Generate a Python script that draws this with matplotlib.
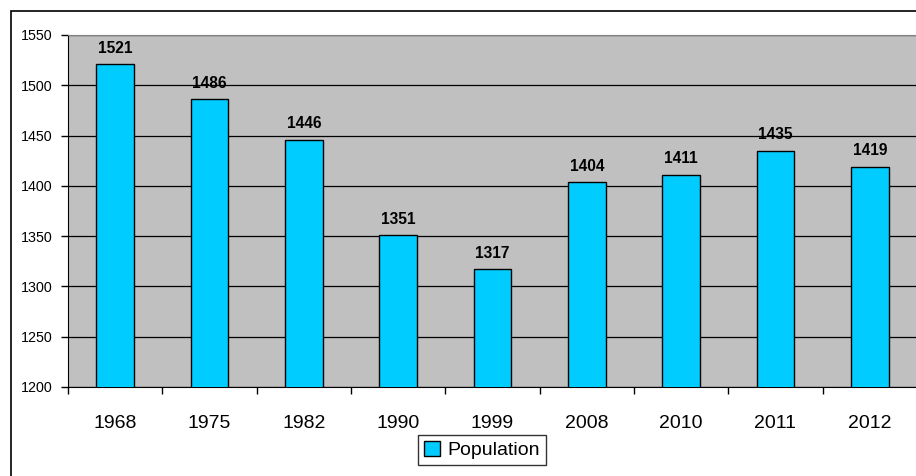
import matplotlib
matplotlib.use("Agg")
from matplotlib import pyplot as plt
from matplotlib.patches import Rectangle
import numpy as np

years = ["1968", "1975", "1982", "1990", "1999", "2008", "2010", "2011", "2012"]
population = [1521, 1486, 1446, 1351, 1317, 1404, 1411, 1435, 1419]
y_ticks = [1200, 1250, 1300, 1350, 1400, 1450, 1500, 1550]

plt.rcParams["font.family"] = ["Liberation Sans", "DejaVu Sans"]

fig = plt.figure(figsize=(9.16, 4.76), dpi=100)
ax = fig.add_axes([68 / 916, 1 - 387 / 476, 849 / 916, 352 / 476])
ax.set_facecolor("#C0C0C0")

x = np.arange(len(years))
bars = ax.bar(x, population, width=0.4, bottom=0, color="#00CCFF",
              edgecolor="black", linewidth=1, zorder=3, label="Population")

for b, v in zip(bars, population):
    ax.annotate(str(v), (b.get_x() + b.get_width() / 2, v), xytext=(0, 6),
                textcoords="offset points", ha="center", va="bottom",
                fontsize=11.2, fontweight="bold", zorder=4)

ax.set_ylim(1200, 1550)
ax.set_xlim(-0.5, len(years) - 0.5)
ax.set_yticks(y_ticks)
ax.yaxis.grid(True, color="black", linewidth=0.9, zorder=1)
ax.set_axisbelow(True)

ax.set_xticks(x)
ax.set_xticklabels(years, fontsize=14)
ax.set_xticks(np.arange(len(years) + 1) - 0.5, minor=True)
ax.tick_params(axis="x", which="major", length=0, pad=20)
ax.tick_params(axis="x", which="minor", length=5, direction="out", width=1)
ax.tick_params(axis="y", length=5, direction="out", width=1, labelsize=10.3, pad=6)

ax.spines["left"].set_color("black")
ax.spines["bottom"].set_color("black")
ax.spines["top"].set_color("#808080")
ax.spines["right"].set_visible(False)

leg = fig.legend(loc="center", bbox_to_anchor=(482 / 916, 1 - 450 / 476),
                 fontsize=14, frameon=True, fancybox=False, edgecolor="black",
                 handlelength=0.8, handleheight=0.8, handletextpad=0.4,
                 borderpad=0.3, borderaxespad=0)
leg.get_frame().set_linewidth(1)

# chart frame around everything
fig.patches.append(Rectangle((11 / 916, -0.1), 1.2, 1.1 - 11 / 476,
                             transform=fig.transFigure, fill=False,
                             edgecolor="black", linewidth=1.2))

fig.savefig("out.png", dpi=100)
